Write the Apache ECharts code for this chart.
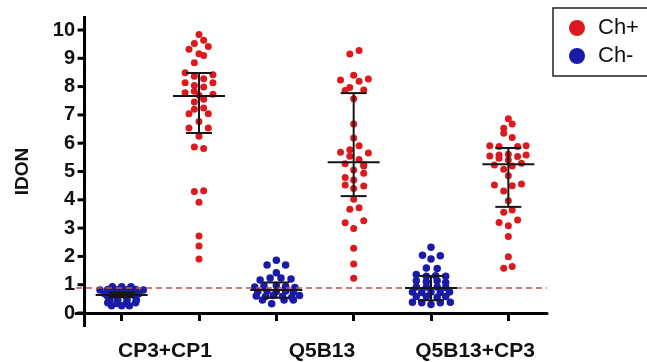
<!DOCTYPE html>
<html>
<head>
<meta charset="utf-8">
<script src="https://cdn.jsdelivr.net/npm/echarts@6/dist/echarts.min.js"></script>
<style>
  html, body { margin: 0; padding: 0; background: #fff; }
  #chart { width: 647px; height: 362px; }
</style>
</head>
<body>
<div id="chart"></div>
<script>
// group labels and where they sit on the x scale (one slot per dot column)
var groups = ['CP3+CP1', 'Q5B13', 'Q5B13+CP3']
var groupLabelPos = [1.06, 3.09, 5.07]
var columnTicks = [0.5, 1.5, 2.5, 3.5, 4.5, 5.5]
var yTicks = [0, 1, 2, 3, 4, 5, 6, 7, 8, 9, 10]

// dots: [horizontal spread inside column, IDON value]
var chMinus_CP3CP1 = [
  [-0.12, 0.93], [0, 0.93], [0.12, 0.93],
  [-0.28, 0.81], [-0.18, 0.83], [-0.06, 0.82], [0.06, 0.82], [0.18, 0.83], [0.28, 0.81],
  [-0.22, 0.68], [-0.12, 0.70], [0, 0.68], [0.12, 0.70], [0.22, 0.68],
  [-0.18, 0.58], [-0.06, 0.58], [0.06, 0.58], [0.18, 0.58],
  [-0.15, 0.46], [-0.05, 0.46], [0.07, 0.46], [0.19, 0.46],
  [-0.18, 0.36], [-0.06, 0.34], [0.06, 0.34], [0.18, 0.36],
  [-0.13, 0.26], [0, 0.26], [0.1, 0.26]
]
var chPlus_CP3CP1 = [
  [0, 9.84], [0.06, 9.64], [-0.06, 9.52], [0.12, 9.42], [-0.13, 9.32],
  [0, 9.16], [0.06, 9.10], [-0.06, 8.84],
  [-0.18, 8.49], [-0.06, 8.37], [0.06, 8.28], [0.18, 8.42],
  [-0.18, 8.14], [-0.06, 8.04], [0.06, 7.99], [0.18, 8.14],
  [-0.18, 7.78], [-0.06, 7.84], [0, 7.69], [0.06, 7.55], [0.18, 7.73],
  [-0.06, 7.46], [0.06, 7.24], [-0.06, 7.20], [-0.13, 7.04], [0.12, 7.04],
  [0, 6.77], [-0.13, 6.54], [0.12, 6.54], [0, 6.25],
  [-0.06, 5.87], [0.06, 5.81],
  [-0.06, 4.29], [0.06, 4.32], [0, 3.91],
  [0, 2.72], [0, 2.37], [0, 1.91]
]
var chMinus_Q5B13 = [
  [0, 1.86], [-0.12, 1.70], [0.12, 1.70], [0, 1.42],
  [-0.21, 1.17], [-0.08, 1.24], [0.06, 1.24], [0.19, 1.20],
  [-0.28, 0.92], [-0.16, 0.96], [0, 0.97], [0.12, 0.94], [0.24, 0.90],
  [-0.24, 0.76], [-0.12, 0.78], [0, 0.76], [0.12, 0.78], [0.22, 0.74],
  [-0.26, 0.60], [-0.14, 0.58], [-0.04, 0.62], [0.08, 0.58], [0.2, 0.56], [0.3, 0.62],
  [-0.18, 0.46], [0.1, 0.46], [0.22, 0.46],
  [-0.06, 0.33]
]
var chPlus_Q5B13 = [
  [-0.05, 9.15], [0.07, 9.28],
  [0, 8.40], [-0.17, 8.23], [0.07, 8.19], [0.19, 8.27],
  [-0.05, 7.97], [-0.11, 7.86], [0.13, 7.88], [0, 7.57],
  [0, 6.68], [0, 6.18], [0.07, 5.91], [-0.05, 5.77], [-0.17, 5.68], [0.19, 5.65],
  [-0.05, 5.54], [0.07, 5.42], [-0.11, 5.27], [0.13, 5.24],
  [0, 5.05], [0.13, 5.19], [-0.11, 4.79], [0, 4.70], [0.13, 4.94],
  [-0.11, 4.52], [0, 4.40], [0.13, 4.49], [0, 4.02],
  [-0.05, 3.67], [0.07, 3.72], [-0.11, 3.19], [0.13, 3.26], [0, 2.99],
  [0, 2.29], [0, 1.73], [0, 1.23]
]
var chMinus_Q5B13CP3 = [
  [0, 2.32], [-0.11, 2.04], [0.12, 2.02], [0, 1.91],
  [-0.06, 1.59], [0.08, 1.57],
  [-0.19, 1.36], [-0.06, 1.30], [0.06, 1.32], [0.19, 1.30],
  [-0.19, 1.14], [-0.06, 1.10], [0.08, 1.14], [0.19, 1.08],
  [-0.19, 0.92], [-0.06, 0.92], [0.08, 0.92], [0.19, 0.90],
  [-0.24, 0.74], [-0.12, 0.72], [0, 0.74], [0.12, 0.72], [0.24, 0.74],
  [-0.19, 0.58], [-0.06, 0.58], [0.08, 0.56], [0.19, 0.58],
  [-0.24, 0.38], [-0.12, 0.36], [0, 0.30], [0.12, 0.36], [0.25, 0.38]
]
var chPlus_Q5B13CP3 = [
  [0, 6.86], [0.05, 6.68], [-0.06, 6.53], [-0.06, 6.35], [0.05, 6.20],
  [-0.24, 5.91], [-0.12, 5.88], [0.12, 5.88], [0.23, 5.91],
  [-0.24, 5.55], [-0.12, 5.58], [0, 5.61], [0.12, 5.53], [0.23, 5.58],
  [-0.12, 5.47], [0, 5.41], [-0.18, 5.23], [0.05, 5.19], [0.17, 5.29],
  [-0.06, 5.08], [0, 4.85], [-0.18, 4.52], [0.05, 4.50], [0.17, 4.56],
  [-0.06, 4.31], [0, 3.97], [-0.06, 3.56], [0.05, 3.64],
  [-0.12, 3.20], [0.12, 3.29], [0, 3.08], [0, 2.70], [0, 1.99],
  [-0.06, 1.58], [0.05, 1.64]
]

// mean and SD limits per column
var means = [0.64, 7.67, 0.81, 5.33, 0.88, 5.26]
var lowers = [0.56, 6.36, 0.54, 4.13, 0.45, 3.75]
var uppers = [0.72, 8.48, 1.08, 7.77, 1.31, 5.83]
var cutoff = 0.9

// column i sits at the middle of slot i on the x scale
function place(list, col) {
  return list.map(function (p) { return [col + 0.5 + p[0], p[1]] })
}
var redData = [].concat(place(chPlus_CP3CP1, 1), place(chPlus_Q5B13, 3), place(chPlus_Q5B13CP3, 5))
var blueData = [].concat(place(chMinus_CP3CP1, 0), place(chMinus_Q5B13, 2), place(chMinus_Q5B13CP3, 4))
var barData = means.map(function (m, i) { return [i + 0.5, m, lowers[i], uppers[i]] })
var yAxisData = yTicks.map(function (v) { return [0.02, v] })

var font = '"Liberation Sans", Arial, sans-serif'
var chart = echarts.init(document.getElementById('chart'))

chart.setOption({
  animation: false,
  grid: { left: 76, right: 100, top: 30, bottom: 49 },
  legend: {
    orient: 'vertical',
    left: 553,
    top: 8,
    padding: [9, 30, 9, 16],
    itemGap: 6,
    itemWidth: 16,
    itemHeight: 16,
    borderColor: '#222',
    borderWidth: 1.5,
    textStyle: { fontFamily: font, fontSize: 22, color: '#111', padding: [0, 0, 0, 8] },
    data: [
      { name: 'Ch+', icon: 'circle' },
      { name: 'Ch-', icon: 'circle' }
    ]
  },
  xAxis: {
    type: 'value',
    min: -0.0905,
    max: 6,
    axisLine: { show: true, onZero: false, lineStyle: { color: '#000', width: 3 } },
    axisTick: {
      show: true, length: 8, customValues: columnTicks,
      lineStyle: { color: '#000', width: 3 }
    },
    axisLabel: {
      customValues: groupLabelPos,
      formatter: function (v) { return groups[Math.round((v - 1) / 2)] },
      margin: 28, fontFamily: font, fontSize: 21, fontWeight: 'bold', color: '#111'
    },
    splitLine: { show: false }
  },
  yAxis: {
    type: 'value',
    min: 0,
    max: 10,
    interval: 1,
    name: 'IDON',
    nameLocation: 'middle',
    nameGap: 44,
    nameTextStyle: { fontFamily: font, fontSize: 19, fontWeight: 'bold', color: '#111' },
    axisLine: { show: false, onZero: false },
    axisTick: { show: false },
    axisLabel: { margin: 1, fontFamily: font, fontSize: 20, fontWeight: 'bold', color: '#111' },
    splitLine: { show: false }
  },
  series: [
    {
      name: 'Ch+',
      type: 'scatter',
      symbolSize: 7,
      itemStyle: { color: '#dc1a1e', opacity: 1 },
      data: redData,
      z: 2,
      markLine: {
        silent: true,
        symbol: 'none',
        label: { show: false },
        lineStyle: { color: '#000', type: 'solid', width: 3 },
        data: [{ xAxis: 0.02 }]
      }
    },
    {
      name: 'Ch-',
      type: 'scatter',
      symbolSize: 7.5,
      itemStyle: { color: '#1a1aa8', opacity: 1 },
      data: blueData,
      z: 2,
      markLine: {
        silent: true,
        symbol: 'none',
        label: { show: false },
        lineStyle: { color: '#c0504d', type: [6, 4], width: 1.5 },
        data: [{ yAxis: cutoff }]
      }
    },
    {
      // mean line + SD whiskers
      type: 'custom',
      z: 5,
      encode: { x: 0, y: [1, 2, 3] },
      renderItem: function (params, api) {
        var x = api.value(0)
        var pm = api.coord([x, api.value(1)])
        var pl = api.coord([x, api.value(2)])
        var ph = api.coord([x, api.value(3)])
        var st = { stroke: '#151515', lineWidth: 2 }
        return {
          type: 'group',
          children: [
            { type: 'line', shape: { x1: pm[0] - 26, y1: pm[1], x2: pm[0] + 26, y2: pm[1] }, style: st },
            { type: 'line', shape: { x1: pl[0], y1: pl[1], x2: ph[0], y2: ph[1] }, style: st },
            { type: 'line', shape: { x1: pl[0] - 13, y1: pl[1], x2: pl[0] + 13, y2: pl[1] }, style: st },
            { type: 'line', shape: { x1: ph[0] - 13, y1: ph[1], x2: ph[0] + 13, y2: ph[1] }, style: st }
          ]
        }
      },
      data: barData
    },
    {
      // left axis ticks, drawn at the left axis position of the scale
      type: 'custom',
      z: 6,
      silent: true,
      encode: { x: 0, y: 1 },
      renderItem: function (params, api) {
        var p = api.coord([api.value(0), api.value(1)])
        return {
          type: 'group',
          children: [
            { type: 'line', shape: { x1: p[0] - 7, y1: p[1], x2: p[0], y2: p[1] }, style: { stroke: '#000', lineWidth: 3 } },
            { type: 'line', shape: { x1: p[0], y1: p[1] - 14, x2: p[0], y2: p[1] + 14 }, style: { stroke: '#000', lineWidth: 3 } }
          ]
        }
      },
      data: yAxisData
    }
  ]
})
</script>
</body>
</html>
